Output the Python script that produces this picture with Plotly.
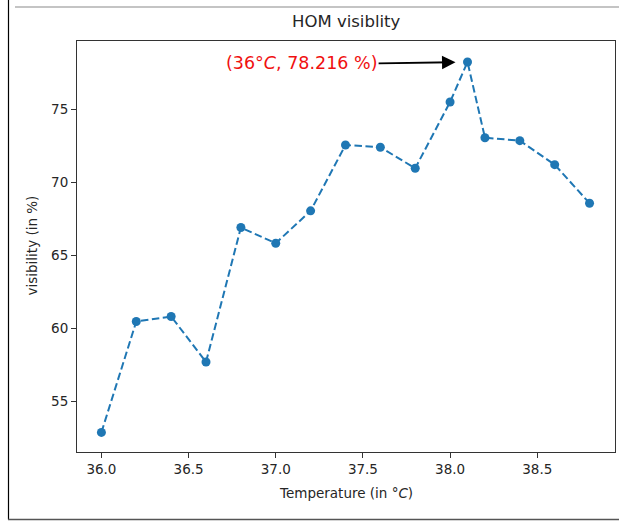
import plotly.graph_objects as go

# Data
temperature = [36.0, 36.2, 36.4, 36.6, 36.8, 37.0, 37.2, 37.4, 37.6, 37.8,
               38.0, 38.1, 38.2, 38.4, 38.6, 38.8]
visibility = [52.9, 60.48, 60.82, 57.71, 66.9, 65.83, 68.04, 72.54, 72.39, 70.95,
              75.48, 78.216, 73.04, 72.84, 71.2, 68.56]
x_ticks = [36.0, 36.5, 37.0, 37.5, 38.0, 38.5]
x_tick_labels = ["36.0", "36.5", "37.0", "37.5", "38.0", "38.5"]
y_ticks = [55, 60, 65, 70, 75]
y_tick_labels = ["55", "60", "65", "70", "75"]
peak_label = "(36°<i>C</i>, 78.216 %)"
peak_x = 38.1
peak_y = 78.216

W, H = 619, 522
L, R, T, B = 77, 4, 41, 70
pw, ph = W - L - R, H - T - B

def px_x(p):
    return (p - L) / pw

def px_y(p):
    return (H - B - p) / ph

FONT = "DejaVu Sans"
TXT = "#262626"
AX = "#333333"

fig = go.Figure()
fig.add_trace(go.Scatter(
    x=temperature, y=visibility, mode="lines+markers",
    line=dict(color="#1f77b4", width=2, dash="7.5px,3.5px"),
    marker=dict(color="#1f77b4", size=9),
    showlegend=False, cliponaxis=False,
))

axis_common = dict(
    showline=True, linecolor=AX, linewidth=1.1, mirror=True,
    ticks="outside", ticklen=5, tickwidth=1.1, tickcolor=AX,
    showgrid=False, zeroline=False,
    tickfont=dict(family=FONT, size=13.5, color=TXT),
)

fig.update_xaxes(range=[35.86, 38.946], tickvals=x_ticks, ticktext=x_tick_labels, **axis_common)
fig.update_yaxes(range=[51.56, 79.65], tickvals=y_ticks, ticktext=y_tick_labels, **axis_common)

annotations = [
    # peak annotation with arrow
    dict(x=peak_x, y=peak_y, xref="x", yref="y",
         ax=37.59, ay=peak_y - 0.1, axref="x", ayref="y",
         text=peak_label, showarrow=True, arrowhead=2, arrowsize=1.5,
         arrowwidth=1.8, arrowcolor="black", standoff=12,
         xanchor="right", yanchor="middle",
         font=dict(family=FONT, size=17.5, color="#f01010")),
    # axis titles
    dict(x=px_x(31.5), y=px_y(246), xref="paper", yref="paper",
         text="visibility (in %)", textangle=-90, showarrow=False,
         xanchor="center", yanchor="middle",
         font=dict(family=FONT, size=13.5, color=TXT)),
    dict(x=0.5, y=px_y(493), xref="paper", yref="paper",
         text="Temperature (in °<i>C</i>)", showarrow=False,
         xanchor="center", yanchor="middle",
         font=dict(family=FONT, size=13.5, color=TXT)),
    dict(x=0.5, y=px_y(22), xref="paper", yref="paper",
         text="HOM visiblity", showarrow=False,
         xanchor="center", yanchor="middle",
         font=dict(family=FONT, size=16.5, color=TXT)),
]

shapes = [
    dict(type="line", xref="paper", yref="paper",
         x0=px_x(8.5), x1=px_x(8.5), y0=px_y(0), y1=px_y(519.5),
         line=dict(color="black", width=1.2)),
    dict(type="line", xref="paper", yref="paper",
         x0=px_x(15), x1=px_x(619), y0=px_y(7), y1=px_y(7),
         line=dict(color="#8a8a8a", width=1.2)),
    dict(type="line", xref="paper", yref="paper",
         x0=px_x(8), x1=px_x(619), y0=px_y(519.5), y1=px_y(519.5),
         line=dict(color="#555555", width=1.5)),
]

fig.update_layout(
    width=W, height=H,
    margin=dict(l=L, r=R, t=T, b=B, pad=0),
    paper_bgcolor="white", plot_bgcolor="white",
    annotations=annotations, shapes=shapes,
    font=dict(family=FONT, color=TXT),
)

fig.write_html(
    "out.html",
    config={"displayModeBar": False},
    post_script="document.body.style.margin='0';document.body.style.overflow='hidden';",
)
